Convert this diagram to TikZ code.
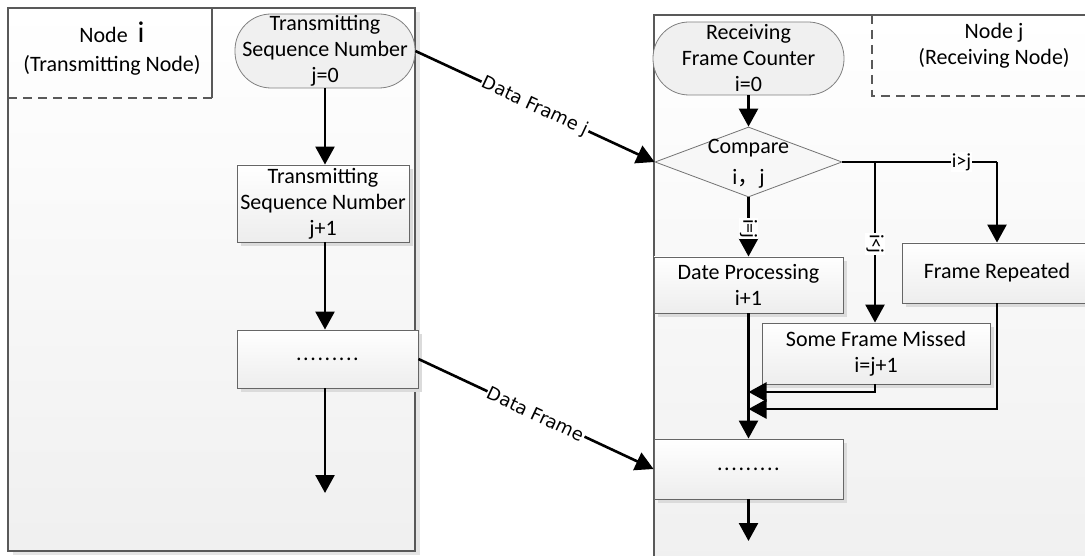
\documentclass[tikz,border=0pt]{standalone}
\usepackage{fontspec}
\setmainfont{Carlito}
\newfontfamily\dejavu{DejaVu Sans}
\newfontfamily\cjk{Noto Sans CJK SC}
\usetikzlibrary{arrows.meta,shadows,shapes.geometric}

% a row of nine spaced dots
\newcommand\dotrow{.\kern1.6pt.\kern1.6pt.\kern1.6pt.\kern1.6pt.\kern1.6pt.\kern1.6pt.\kern1.6pt.\kern1.6pt.}

\begin{document}
\begin{tikzpicture}[x=1pt,y=-1pt,
  every node/.style={font=\fontsize{22}{26}\selectfont, align=center, text=black},
  boxshadow/.style={drop shadow={shadow xshift=4pt, shadow yshift=-4pt, fill=black!14, opacity=1}},
  lane/.style={draw=black!65, line width=1.1pt, top color=white, bottom color=black!6,
               drop shadow={shadow xshift=5pt, shadow yshift=-4pt, fill=black!10, opacity=1}},
  hdr/.style={draw=black!65, line width=1.1pt},
  hdrdash/.style={hdr, dash pattern=on 9pt off 6pt},
  box/.style={rectangle, draw=black!60, line width=0.9pt, top color=white, bottom color=black!7,
              inner sep=0pt, boxshadow},
  term/.style={rectangle, draw=black!50, line width=0.8pt, fill=black!6,
               rounded corners=36pt, inner sep=0pt},
  decision/.style={diamond, draw=black!55, line width=0.8pt, fill=black!3, inner sep=0pt},
  arr/.style={line width=2.6pt, -{Triangle[length=18pt,width=19pt]}},
  line/.style={line width=2.6pt},
  cond/.style={fill=white, inner sep=1pt, font=\fontsize{20}{20}\selectfont},
  flow/.style={fill=white, inner sep=1pt, sloped, font=\dejavu\fontsize{18}{18}\selectfont}
]
\useasboundingbox (0,0) rectangle (1085,556);
\clip (0,0) rectangle (1085,556);
\fill[white] (0,0) rectangle (1085,556);

% ---- swimlanes ----
\path[lane] (8,8) rectangle (415,551);
\draw[hdr] (212,8) -- (212,98);
\draw[hdrdash] (8,98) -- (212,98);
\node (hi) at (112,49) {Node\ \ {\fontsize{30}{26}\selectfont i}\\[3pt](Transmitting Node)};

\path[lane] (654,15) rectangle (1100,580);
\draw[hdrdash] (872,15) -- (872,96) -- (1100,96);
\node (hj) at (994,46) {Node j\\(Receiving Node)};

% ---- transmitting node ----
\node[term, minimum width=180pt, minimum height=74pt] (ts0) at (325,51)
  {Transmitting\\Sequence Number\\j=0};
\node[box, minimum width=172pt, minimum height=77pt] (ts1) at (323,203.5)
  {Transmitting\\Sequence Number\\j+1};
\node[box, minimum width=181pt, minimum height=58pt] (ts2) at (327.5,359) {\dotrow};
\coordinate (tend) at (325,493);

\draw[arr] (ts0.south) -- (ts0.south |- ts1.north);
\draw[arr] (ts0.south |- ts1.south) -- (ts0.south |- ts2.north);
\draw[arr] (ts0.south |- ts2.south) -- (tend);

% ---- receiving node ----
\node[term, minimum width=191pt, minimum height=73pt] (rf0) at (748.5,58.5)
  {Receiving\\Frame Counter\\i=0};
\node[decision, minimum width=187pt, minimum height=70pt] (cmp) at (748.5,162) {};
\node (cmpt) at (748.5,164) {Compare\\[5pt]i{\cjk ，}j};
\node[box, minimum width=189pt, minimum height=56pt] (dp) at (748.5,285)
  {Date Processing\\i+1};
\node[box, minimum width=190pt, minimum height=60pt] (fr) at (997,273) {Frame Repeated};
\node[box, minimum width=228pt, minimum height=61pt] (fm) at (876,353.5)
  {Some Frame Missed\\i=j+1};
\node[box, minimum width=189pt, minimum height=60pt] (rd) at (748.5,469) {\dotrow};
\coordinate (rend) at (748.5,541);
\coordinate (br) at (875,162);
\coordinate (m1) at (748.5,392);
\coordinate (m2) at (748.5,409);

\draw[arr] (rf0.south) -- (cmp.north);
\draw[arr] (cmp.south) -- node[cond, rotate=-90, pos=0.53] (leq) {i=j} (dp.north);
\draw[line] (cmp.east) -- node[cond, pos=0.77] (lgt) {i>j} (fr.north |- cmp.east);
\draw[arr] (fr.north |- cmp.east) -- (fr.north);
\draw[arr] (br) -- node[cond, rotate=-90, pos=0.51] (llt) {i<j} (br |- fm.north);
\draw[arr] (dp.south) -- (rd.north);
\draw[arr] (br |- fm.south) |- (m1);
\draw[arr] (fr.south) |- (m2);
\draw[arr] (rd.south) -- (rend);

% ---- frames sent between the nodes ----
\draw[arr] (ts0.east) -- node[flow, pos=0.5] (dfj) {Data Frame j} (cmp.west);
\draw[arr] (ts2.east) -- node[flow, pos=0.5] (df) {Data Frame} (rd.west);
\end{tikzpicture}
\end{document}
